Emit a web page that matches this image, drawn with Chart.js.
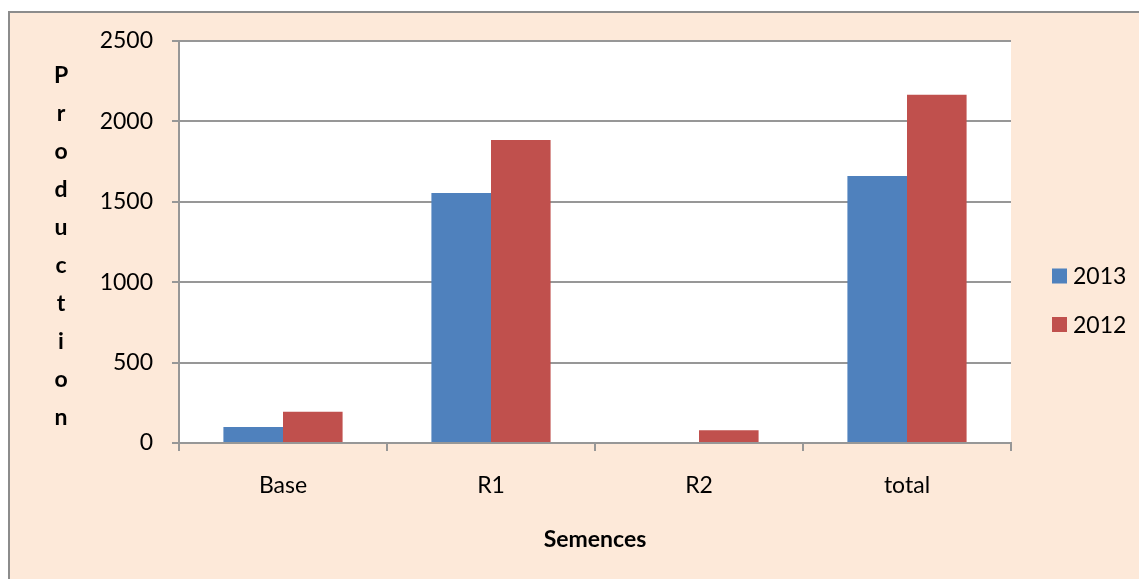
<!DOCTYPE html>
<html>
<head>
<meta charset="utf-8">
<script src="https://cdn.jsdelivr.net/npm/chart.js@4/dist/chart.umd.min.js"></script>
<style>
  html, body { margin: 0; padding: 0; background: #ffffff; overflow: hidden; }
  #frame {
    position: absolute; left: 8px; top: 11px; width: 1200px; height: 640px;
    background: #FDE9D9; border: 2px solid #8c8c8c;
  }
  #wrap { position: absolute; left: 0; top: 0; width: 1139px; height: 579px; }
</style>
</head>
<body>
<div id="frame"></div>
<div id="wrap"><canvas id="chart" width="1139" height="579"></canvas></div>
<script>
// Seed production by class, two campaigns
const categories = ['Base', 'R1', 'R2', 'total'];
const seriesLabels = ['2013', '2012'];
const values2013 = [100, 1555, 0, 1660];
const values2012 = [195, 1885, 80, 2165];
const yTicks = [0, 500, 1000, 1500, 2000, 2500];
const yTitle = 'Production';
const xTitle = 'Semences';

const FONT = 'Lato, "Open Sans", sans-serif';
const FS = 23;
const GRID = '#979797';

// Vertical, letter-by-letter axis title on the left
const stackedTitle = {
  id: 'stackedTitle',
  afterDraw(chart) {
    const ctx = chart.ctx;
    ctx.save();
    ctx.font = 'bold ' + FS + 'px ' + FONT;
    ctx.fillStyle = '#000';
    ctx.textAlign = 'center';
    ctx.textBaseline = 'middle';
    const letters = yTitle.split('');
    const step = 38;
    const mid = (chart.chartArea.top + chart.chartArea.bottom) / 2 + 5;
    const start = mid - step * (letters.length - 1) / 2;
    letters.forEach((ch, i) => ctx.fillText(ch, 61, start + i * step));
    ctx.restore();
  }
};

// Legend at the right of the plot
const sideLegend = {
  id: 'sideLegend',
  afterDraw(chart) {
    const ctx = chart.ctx;
    ctx.save();
    ctx.font = FS + 'px ' + FONT;
    ctx.textBaseline = 'middle';
    ctx.textAlign = 'left';
    chart.data.datasets.forEach((ds, i) => {
      const cy = 276 + i * 48.5;
      ctx.fillStyle = ds.backgroundColor;
      ctx.fillRect(1052, cy - 7.5, 15, 15);
      ctx.fillStyle = '#000';
      ctx.fillText(ds.label, 1073, cy + 1);
    });
    ctx.restore();
  }
};

new Chart(document.getElementById('chart'), {
  type: 'bar',
  data: {
    labels: categories,
    datasets: [
      { label: seriesLabels[0], data: values2013, backgroundColor: '#4F81BD' },
      { label: seriesLabels[1], data: values2012, backgroundColor: '#C0504D' }
    ]
  },
  options: {
    responsive: false,
    animation: false,
    devicePixelRatio: 1,
    layout: { padding: { left: 0, top: 41, right: 128, bottom: 0 } },
    categoryPercentage: 0.573,
    barPercentage: 1.0,
    plugins: {
      legend: { display: false },
      tooltip: { enabled: false },
      title: { display: false }
    },
    scales: {
      x: {
        grid: {
          offset: true,
          drawOnChartArea: false,
          drawTicks: true,
          tickLength: 8,
          color: GRID,
          lineWidth: 2
        },
        border: { display: true, color: GRID, width: 2 },
        ticks: { color: '#000', font: { family: FONT, size: FS }, padding: 21, maxRotation: 0 },
        title: {
          display: true, text: xTitle, color: '#000',
          font: { family: FONT, size: FS, weight: 'bold' },
          padding: { top: 0, bottom: 26 }
        },
        afterFit(scale) { scale.height = 579 - 443; }
      },
      y: {
        min: 0, max: 2500,
        afterBuildTicks(scale) { scale.ticks = yTicks.map(v => ({ value: v })); },
        grid: { color: GRID, lineWidth: 2, tickLength: 7, drawTicks: true },
        border: { display: true, color: GRID, width: 2 },
        ticks: {
          color: '#000', font: { family: FONT, size: FS }, padding: 19,
          callback: v => String(v)
        },
        afterFit(scale) { scale.width = 179; }
      }
    }
  },
  plugins: [stackedTitle, sideLegend, {
    id: 'plotBg',
    beforeDraw(chart) {
      const a = chart.chartArea, ctx = chart.ctx;
      ctx.save();
      ctx.fillStyle = '#ffffff';
      ctx.fillRect(a.left, a.top, a.right - a.left, a.bottom - a.top);
      ctx.restore();
    }
  }]
});
</script>
</body>
</html>
